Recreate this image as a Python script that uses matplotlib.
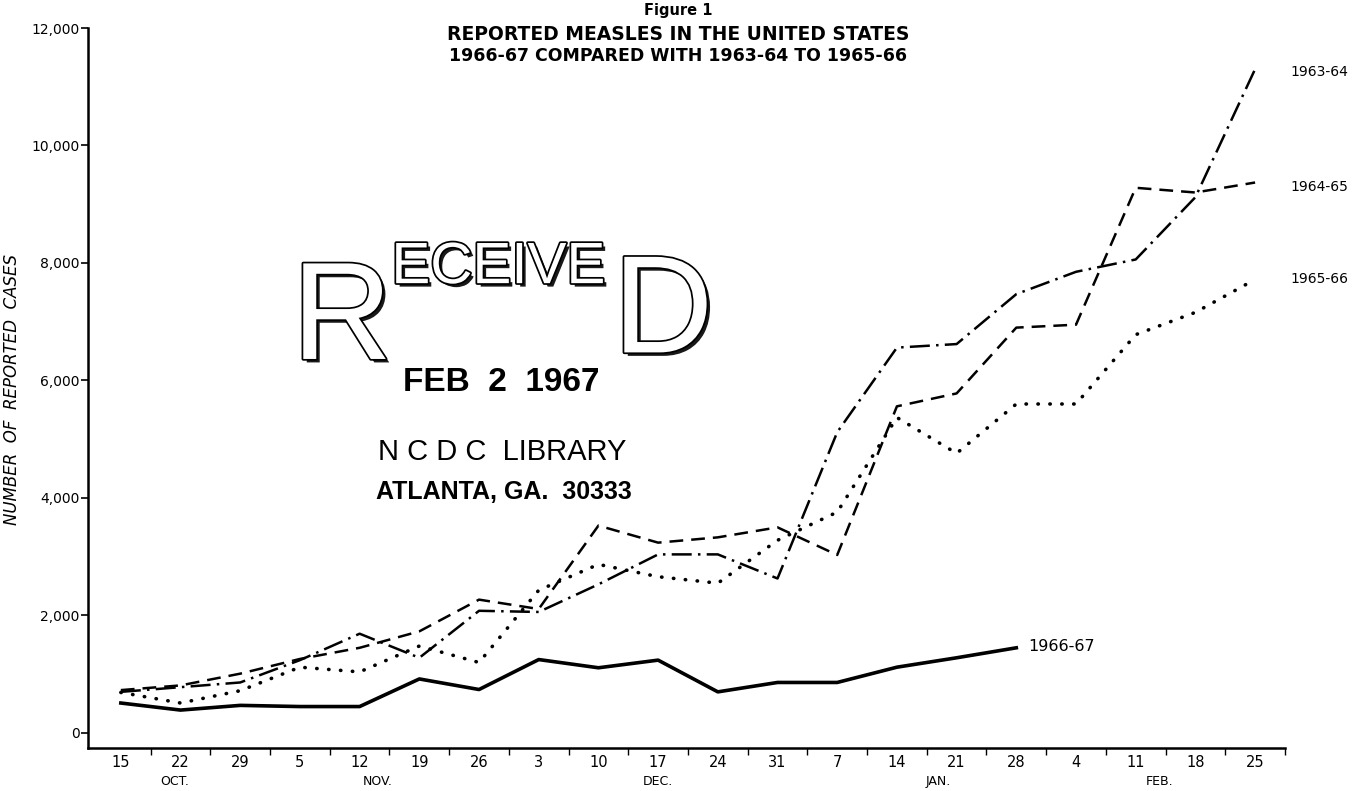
import numpy as np
import matplotlib
matplotlib.use('Agg')
import matplotlib.pyplot as plt
import matplotlib.patheffects as pe
from matplotlib import font_manager

# week ending dates, Oct 1966 .. Feb 1967
weeks = ['15', '22', '29', '5', '12', '19', '26', '3', '10', '17',
         '24', '31', '7', '14', '21', '28', '4', '11', '18', '25']
months = ['OCT.', 'NOV.', 'DEC.', 'JAN.', 'FEB.']
month_pos = [0.9, 4.3, 9.0, 13.7, 17.4]

# reported cases per week
cases_1963_64 = [700, 780, 860, 1240, 1690, 1280, 2080, 2060, 2530, 3040,
                 3040, 2630, 5120, 6560, 6620, 7470, 7850, 8060, 9120, 11300]
cases_1964_65 = [730, 810, 1010, 1260, 1450, 1730, 2270, 2110, 3530, 3240,
                 3330, 3500, 3030, 5560, 5780, 6900, 6950, 9280, 9200, 9370]
cases_1965_66 = [690, 510, 720, 1120, 1040, 1480, 1200, 2430, 2870, 2660,
                 2550, 3280, 3760, 5370, 4760, 5600, 5600, 6780, 7160, 7720]
cases_1966_67 = [510, 390, 470, 450, 450, 920, 740, 1250, 1110, 1240,
                 700, 860, 860, 1120, 1280, 1450]

names = {f.name for f in font_manager.fontManager.ttflist}
narrow = 'Liberation Sans Narrow' if 'Liberation Sans Narrow' in names else 'Liberation Sans'

fig = plt.figure(figsize=(13.54, 7.91), dpi=100)
ax = fig.add_axes([0.065, 0.0544, 0.884, 0.9102])

x = np.arange(len(weeks))
ax.plot(x, cases_1963_64, color='black', lw=1.8, linestyle=(0, (8, 2.5, 1, 2.5)))
ax.plot(x, cases_1964_65, color='black', lw=1.8, linestyle=(0, (5.5, 3.2)))
ax.plot(x, cases_1965_66, color='black', lw=2.6, linestyle=(0, (0.1, 3.2)),
        dash_capstyle='round')
ax.plot(x[:len(cases_1966_67)], cases_1966_67, color='black', lw=2.6)

# series labels at the line ends
ax.text(19.6, 11250, '1963-64', fontsize=10, va='center', ha='left')
ax.text(19.6, 9300, '1964-65', fontsize=10, va='center', ha='left')
ax.text(19.6, 7720, '1965-66', fontsize=10, va='center', ha='left')
ax.text(15.2, 1480, '1966-67', fontsize=11.5, va='center', ha='left')

ax.set_xlim(-0.55, 19.5)
ax.set_ylim(-255, 12000)
for s in ['top', 'right']:
    ax.spines[s].set_visible(False)
ax.spines['left'].set_linewidth(1.8)
ax.spines['bottom'].set_linewidth(1.8)

ax.set_yticks([0, 2000, 4000, 6000, 8000, 10000, 12000])
ax.set_yticklabels(['0', '2,000', '4,000', '6,000', '8,000', '10,000', '12,000'])
ax.tick_params(axis='y', direction='out', length=5, width=1.2, labelsize=10, pad=1)

ax.set_xticks(x)
ax.set_xticklabels(weeks)
ax.set_xticks(x + 0.5, minor=True)
ax.tick_params(axis='x', which='major', length=0, labelsize=10.5, pad=5)
ax.tick_params(axis='x', which='minor', direction='out', length=5, width=1)

for m, p in zip(months, month_pos):
    ax.text(p, -0.047, m, transform=ax.get_xaxis_transform(),
            ha='center', va='center', fontsize=9)

fig.text(0.009, 0.507, 'NUMBER  OF  REPORTED  CASES', rotation=90, style='italic',
         fontsize=12, ha='center', va='center')

# title block
fig.text(0.5007, 0.987, 'Figure 1', ha='center', va='center', weight='bold', fontsize=10.5)
fig.text(0.5007, 0.956, 'REPORTED MEASLES IN THE UNITED STATES', ha='center', va='center',
         weight='bold', fontsize=13.5)
fig.text(0.5007, 0.929, '1966-67 COMPARED WITH 1963-64 TO 1965-66', ha='center', va='center',
         weight='bold', fontsize=12.5)

# library receipt stamp
outline = [pe.SimplePatchShadow(offset=(2.5, -2.5), shadow_rgbFace='black', alpha=0.9),
           pe.withStroke(linewidth=2.5, foreground='black')]
fig.text(0.2526, 0.5917, 'R', fontsize=100, family=narrow, color='white',
         ha='center', va='center', path_effects=outline)
fig.text(0.368, 0.661, 'ECEIVE', fontsize=42, family=narrow, color='white',
         ha='center', va='center', path_effects=outline)
fig.text(0.4897, 0.600, 'D', fontsize=100, family=narrow, color='white',
         ha='center', va='center', path_effects=outline)
fig.text(0.370, 0.516, 'FEB  2  1967', fontsize=24, family=narrow, weight='bold',
         ha='center', va='center')
fig.text(0.3708, 0.4286, 'N C D C  LIBRARY', fontsize=21, family='Liberation Sans',
         ha='center', va='center')
fig.text(0.3722, 0.378, 'ATLANTA, GA.  30333', fontsize=18, family=narrow, weight='bold',
         ha='center', va='center')

plt.savefig('out.png', dpi=100)
